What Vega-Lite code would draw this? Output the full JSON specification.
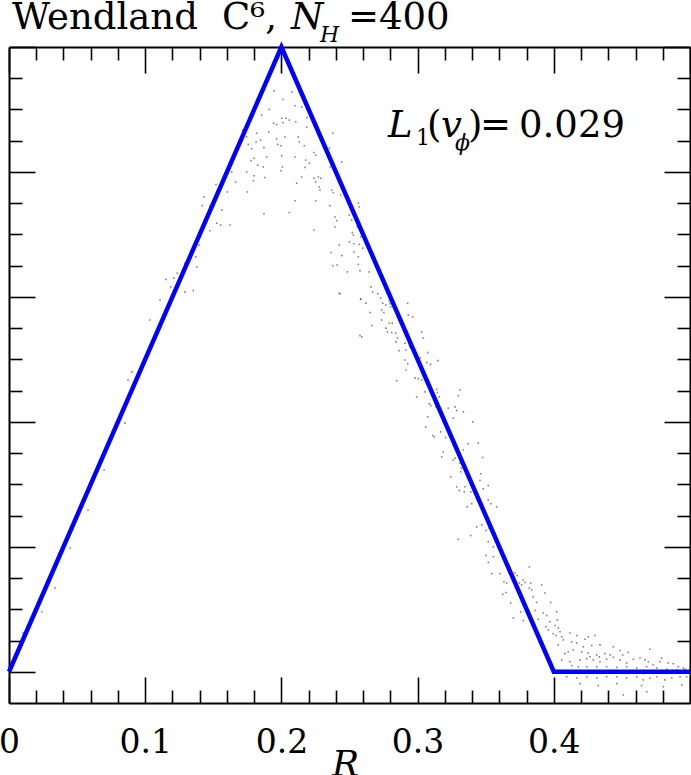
{
  "$schema": "https://vega.github.io/schema/vega-lite/v6.json",
  "width": 681,
  "height": 656,
  "autosize": {"type": "none"},
  "padding": {"left": 9, "top": 47, "right": 1, "bottom": 72},
  "background": "white",
  "config": {
    "view": {"stroke": null},
    "axis": {"zindex": 1, "domainColor": "#000", "tickColor": "#000", "domainWidth": 2, "tickWidth": 1.6, "grid": false, "labelFlush": false, "labelOverlap": false, "labelBound": false, "title": null}
  },
  "datasets": {
    "profile": [{"R": 0, "v": 0}, {"R": 0.2, "v": 1}, {"R": 0.4, "v": 0}, {"R": 0.5, "v": 0}],
    "particles": [
      {"R":0.1946,"v":0.930},{"R":0.2076,"v":0.928},{"R":0.2010,"v":0.916},{"R":0.2100,"v":0.906},{"R":0.2149,"v":0.904},
      {"R":0.1911,"v":0.900},{"R":0.1855,"v":0.891},{"R":0.2002,"v":0.886},{"R":0.2034,"v":0.886},{"R":0.2058,"v":0.883},
      {"R":0.2105,"v":0.880},{"R":0.2188,"v":0.887},{"R":0.1943,"v":0.878},{"R":0.1965,"v":0.876},{"R":0.2010,"v":0.879},
      {"R":0.1907,"v":0.864},{"R":0.2186,"v":0.872},{"R":0.1819,"v":0.862},{"R":0.1745,"v":0.856},{"R":0.1716,"v":0.867},
      {"R":0.1965,"v":0.853},{"R":0.2026,"v":0.856},{"R":0.2124,"v":0.856},{"R":0.1848,"v":0.851},{"R":0.1814,"v":0.848},
      {"R":0.1757,"v":0.844},{"R":0.1973,"v":0.844},{"R":0.1995,"v":0.842},{"R":0.2131,"v":0.848},{"R":0.2168,"v":0.842},
      {"R":0.1872,"v":0.839},{"R":0.1782,"v":0.837},{"R":0.2377,"v":0.862},{"R":0.2239,"v":0.831},{"R":0.2252,"v":0.827},
      {"R":0.2352,"v":0.838},{"R":0.1799,"v":0.822},{"R":0.1777,"v":0.818},{"R":0.1892,"v":0.824},{"R":0.2002,"v":0.826},
      {"R":0.2100,"v":0.824},{"R":0.2178,"v":0.819},{"R":0.2205,"v":0.814},{"R":0.1826,"v":0.811},{"R":0.1867,"v":0.808},
      {"R":0.2007,"v":0.808},{"R":0.1997,"v":0.802},{"R":0.2173,"v":0.807},{"R":0.2443,"v":0.816},{"R":0.2357,"v":0.808},
      {"R":0.1745,"v":0.800},{"R":0.1635,"v":0.800},{"R":0.1603,"v":0.798},{"R":0.1799,"v":0.794},{"R":0.1794,"v":0.786},
      {"R":0.1877,"v":0.791},{"R":0.2149,"v":0.792},{"R":0.2239,"v":0.790},{"R":0.2271,"v":0.792},{"R":0.2289,"v":0.790},
      {"R":0.1664,"v":0.784},{"R":0.2112,"v":0.782},{"R":0.2252,"v":0.784},{"R":0.2278,"v":0.776},{"R":0.2283,"v":0.771},
      {"R":0.1520,"v":0.780},{"R":0.1603,"v":0.768},{"R":0.1750,"v":0.768},{"R":0.2369,"v":0.771},{"R":0.2381,"v":0.767},
      {"R":0.2435,"v":0.763},{"R":0.2100,"v":0.754},{"R":0.2252,"v":0.754},{"R":0.1432,"v":0.760},{"R":0.1419,"v":0.746},
      {"R":0.1476,"v":0.746},{"R":0.1562,"v":0.739},{"R":0.2357,"v":0.746},{"R":0.2565,"v":0.750},{"R":0.2572,"v":0.744},
      {"R":0.1872,"v":0.733},{"R":0.2058,"v":0.735},{"R":0.2499,"v":0.731},{"R":0.2394,"v":0.728},{"R":0.2406,"v":0.722},
      {"R":0.2516,"v":0.723},{"R":0.1525,"v":0.718},{"R":0.1554,"v":0.715},{"R":0.1623,"v":0.715},{"R":0.2557,"v":0.712},
      {"R":0.2394,"v":0.712},{"R":0.2239,"v":0.707},{"R":0.1476,"v":0.706},{"R":0.2521,"v":0.703},{"R":0.2528,"v":0.699},
      {"R":0.2582,"v":0.696},{"R":0.2499,"v":0.688},{"R":0.2533,"v":0.685},{"R":0.2572,"v":0.684},{"R":0.1397,"v":0.683},
      {"R":0.2425,"v":0.683},{"R":0.2597,"v":0.678},{"R":0.2533,"v":0.672},{"R":0.2364,"v":0.671},{"R":0.2443,"v":0.666},
      {"R":0.2565,"v":0.664},{"R":0.1371,"v":0.664},{"R":0.2565,"v":0.652},{"R":0.2377,"v":0.650},{"R":0.2410,"v":0.651},
      {"R":0.1292,"v":0.654},{"R":0.1378,"v":0.648},{"R":0.2484,"v":0.640},{"R":0.2577,"v":0.642},{"R":0.2645,"v":0.640},
      {"R":0.1153,"v":0.628},{"R":0.1211,"v":0.630},{"R":0.1236,"v":0.638},{"R":0.1187,"v":0.616},{"R":0.1292,"v":0.608},
      {"R":0.1353,"v":0.610},{"R":0.2425,"v":0.606},{"R":0.2582,"v":0.597},
      {"R":0.2430,"v":0.605},{"R":0.2658,"v":0.616},{"R":0.2670,"v":0.608},{"R":0.2707,"v":0.605},{"R":0.2729,"v":0.598},
      {"R":0.2582,"v":0.596},{"R":0.2621,"v":0.590},{"R":0.2744,"v":0.590},{"R":0.2768,"v":0.587},{"R":0.2792,"v":0.594},
      {"R":0.2797,"v":0.589},{"R":0.2802,"v":0.584},{"R":0.2736,"v":0.579},{"R":0.2753,"v":0.575},{"R":0.2927,"v":0.590},
      {"R":0.2651,"v":0.575},{"R":0.2932,"v":0.571},{"R":0.2964,"v":0.568},{"R":0.2736,"v":0.563},{"R":0.2792,"v":0.558},
      {"R":0.2814,"v":0.558},{"R":0.2663,"v":0.554},{"R":0.2768,"v":0.550},{"R":0.2778,"v":0.544},{"R":0.2810,"v":0.543},
      {"R":0.2839,"v":0.542},{"R":0.2902,"v":0.546},{"R":0.3030,"v":0.544},{"R":0.2577,"v":0.538},{"R":0.2590,"v":0.536},
      {"R":0.2851,"v":0.534},{"R":0.2841,"v":0.528},{"R":0.3042,"v":0.534},{"R":0.2907,"v":0.526},{"R":0.2939,"v":0.523},
      {"R":0.2944,"v":0.519},{"R":0.2863,"v":0.514},{"R":0.2915,"v":0.515},{"R":0.3074,"v":0.511},{"R":0.3150,"v":0.498},
      {"R":0.2907,"v":0.499},{"R":0.2927,"v":0.493},{"R":0.3018,"v":0.502},{"R":0.3067,"v":0.495},{"R":0.3096,"v":0.492},
      {"R":0.2915,"v":0.483},{"R":0.2847,"v":0.466},{"R":0.2981,"v":0.470},{"R":0.3005,"v":0.469},{"R":0.3030,"v":0.467},
      {"R":0.3054,"v":0.448},{"R":0.3140,"v":0.452},{"R":0.3145,"v":0.447},{"R":0.3311,"v":0.451},{"R":0.3299,"v":0.442},
      {"R":0.2993,"v":0.440},{"R":0.3159,"v":0.440},{"R":0.3086,"v":0.429},{"R":0.3096,"v":0.426},{"R":0.3135,"v":0.424},
      {"R":0.3225,"v":0.422},{"R":0.3275,"v":0.424},{"R":0.3287,"v":0.418},{"R":0.3336,"v":0.416},{"R":0.3074,"v":0.408},
      {"R":0.3262,"v":0.406},{"R":0.3405,"v":0.400},{"R":0.3059,"v":0.392},{"R":0.3111,"v":0.378},{"R":0.3123,"v":0.376},
      {"R":0.3170,"v":0.384},{"R":0.3206,"v":0.375},{"R":0.3372,"v":0.365},{"R":0.3446,"v":0.366},{"R":0.3275,"v":0.358},
      {"R":0.3189,"v":0.352},{"R":0.3177,"v":0.344},{"R":0.3336,"v":0.355},{"R":0.3478,"v":0.343},{"R":0.3275,"v":0.342},
      {"R":0.3262,"v":0.339},{"R":0.3311,"v":0.334},{"R":0.3321,"v":0.326},{"R":0.3316,"v":0.320},{"R":0.3243,"v":0.312},
      {"R":0.3463,"v":0.317},{"R":0.3287,"v":0.296},{"R":0.3348,"v":0.296},{"R":0.3458,"v":0.306},{"R":0.3519,"v":0.298},
      {"R":0.3306,"v":0.290},{"R":0.3343,"v":0.288},{"R":0.3390,"v":0.288},{"R":0.3421,"v":0.288},{"R":0.3482,"v":0.293},
      {"R":0.3365,"v":0.264},{"R":0.3397,"v":0.269},{"R":0.3519,"v":0.275},{"R":0.3537,"v":0.269},{"R":0.3581,"v":0.264},
      {"R":0.3434,"v":0.232},{"R":0.3471,"v":0.235},{"R":0.3502,"v":0.226},{"R":0.3526,"v":0.230},{"R":0.3568,"v":0.222},
      {"R":0.3581,"v":0.211},{"R":0.3299,"v":0.212},{"R":0.3390,"v":0.218},{"R":0.3519,"v":0.208},{"R":0.3556,"v":0.200},
      {"R":0.3502,"v":0.186},{"R":0.3556,"v":0.184},
      {"R":0.3519,"v":0.175},{"R":0.3544,"v":0.157},{"R":0.3605,"v":0.157},{"R":0.3634,"v":0.144},{"R":0.3654,"v":0.142},
      {"R":0.3715,"v":0.158},{"R":0.3732,"v":0.154},{"R":0.3820,"v":0.168},{"R":0.3747,"v":0.142},{"R":0.3776,"v":0.147},
      {"R":0.3789,"v":0.143},{"R":0.3764,"v":0.139},{"R":0.3830,"v":0.142},{"R":0.3911,"v":0.139},{"R":0.3649,"v":0.127},
      {"R":0.3625,"v":0.124},{"R":0.3820,"v":0.134},{"R":0.3838,"v":0.131},{"R":0.3849,"v":0.120},{"R":0.3935,"v":0.126},
      {"R":0.3684,"v":0.110},{"R":0.3764,"v":0.112},{"R":0.3776,"v":0.107},{"R":0.3874,"v":0.111},{"R":0.3977,"v":0.111},
      {"R":0.3757,"v":0.096},{"R":0.3801,"v":0.096},{"R":0.3813,"v":0.094},{"R":0.3862,"v":0.098},{"R":0.3923,"v":0.094},
      {"R":0.3948,"v":0.090},{"R":0.4021,"v":0.096},{"R":0.3703,"v":0.086},{"R":0.3776,"v":0.082},{"R":0.3886,"v":0.084},
      {"R":0.3972,"v":0.080},{"R":0.4026,"v":0.083},{"R":0.3943,"v":0.072},{"R":0.3960,"v":0.067},{"R":0.4009,"v":0.074},
      {"R":0.4033,"v":0.070},{"R":0.4046,"v":0.064},{"R":0.3996,"v":0.061},{"R":0.4016,"v":0.058},{"R":0.4058,"v":0.056},
      {"R":0.4070,"v":0.051},{"R":0.4119,"v":0.062},{"R":0.4168,"v":0.058},{"R":0.4229,"v":0.052},{"R":0.4253,"v":0.056},
      {"R":0.4302,"v":0.058},{"R":0.4131,"v":0.048},{"R":0.4168,"v":0.046},{"R":0.4217,"v":0.040},{"R":0.4278,"v":0.042},
      {"R":0.4339,"v":0.043},{"R":0.4437,"v":0.040},{"R":0.4033,"v":0.043},{"R":0.4143,"v":0.035},{"R":0.4106,"v":0.032},
      {"R":0.4082,"v":0.029},{"R":0.4205,"v":0.032},{"R":0.4253,"v":0.030},{"R":0.4266,"v":0.024},{"R":0.4315,"v":0.027},
      {"R":0.4334,"v":0.024},{"R":0.4376,"v":0.029},{"R":0.4413,"v":0.027},{"R":0.4486,"v":0.034},{"R":0.4506,"v":0.027},
      {"R":0.4547,"v":0.031},{"R":0.4706,"v":0.036},{"R":0.4058,"v":0.019},{"R":0.4119,"v":0.016},{"R":0.4192,"v":0.019},
      {"R":0.4242,"v":0.021},{"R":0.4290,"v":0.019},{"R":0.4339,"v":0.016},{"R":0.4388,"v":0.020},{"R":0.4437,"v":0.023},
      {"R":0.4486,"v":0.019},{"R":0.4535,"v":0.014},{"R":0.4584,"v":0.020},{"R":0.4633,"v":0.022},{"R":0.4670,"v":0.019},
      {"R":0.4694,"v":0.016},{"R":0.4730,"v":0.011},{"R":0.4780,"v":0.016},{"R":0.4792,"v":0.022},{"R":0.4841,"v":0.014},
      {"R":0.4877,"v":0.013},{"R":0.4914,"v":0.008},{"R":0.4951,"v":0.006},{"R":0.4131,"v":0.010},{"R":0.4180,"v":0.008},
      {"R":0.4242,"v":0.008},{"R":0.4315,"v":0.008},{"R":0.4388,"v":0.008},{"R":0.4462,"v":0.007},{"R":0.4535,"v":0.008},
      {"R":0.4609,"v":0.006},{"R":0.4682,"v":0.008},{"R":0.4755,"v":0.006},{"R":0.4829,"v":0.004},{"R":0.4902,"v":0.003},
      {"R":0.4963,"v":0.004},{"R":0.4095,"v":-0.008},{"R":0.4168,"v":-0.010},{"R":0.4242,"v":-0.008},{"R":0.4315,"v":-0.010},
      {"R":0.4388,"v":-0.008},{"R":0.4462,"v":-0.008},{"R":0.4535,"v":-0.010},{"R":0.4609,"v":-0.008},{"R":0.4657,"v":-0.013},
      {"R":0.4706,"v":-0.010},{"R":0.4755,"v":-0.008},{"R":0.4816,"v":-0.013},{"R":0.4866,"v":-0.010},{"R":0.4927,"v":-0.008},
      {"R":0.4976,"v":-0.008},{"R":0.4192,"v":-0.019},{"R":0.4327,"v":-0.022},{"R":0.4462,"v":-0.019},{"R":0.4645,"v":-0.022},
      {"R":0.4804,"v":-0.024},{"R":0.4939,"v":-0.021},{"R":0.4510,"v":-0.037},{"R":0.4682,"v":-0.032},
      {"R":0.0903,"v":0.480},{"R":0.0874,"v":0.467},{"R":0.0852,"v":0.398},{"R":0.0580,"v":0.259},{"R":0.0448,"v":0.198},
      {"R":0.0338,"v":0.134},{"R":0.0242,"v":0.096},{"R":0.0103,"v":0.062},{"R":0.1035,"v":0.563},{"R":0.0698,"v":0.323},
      {"R":0.0756,"v":0.374},{"R":0.1109,"v":0.595}
    ],
    "textNormal": [
      {"R": 0.0022, "v": 1.0288, "t": "Wendland"},
      {"R": 0.1564, "v": 1.0288, "t": "C⁶,"},
      {"R": 0.2489, "v": 1.0288, "t": "=400"},
      {"R": 0.3069, "v": 0.856, "t": "("},
      {"R": 0.3370, "v": 0.856, "t": ")"},
      {"R": 0.3458, "v": 0.856, "t": "="},
      {"R": 0.3745, "v": 0.856, "t": "0.029"}
    ],
    "textItalic": [
      {"R": 0.2070, "v": 1.0288, "t": "N"},
      {"R": 0.2783, "v": 0.856, "t": "L"},
      {"R": 0.3172, "v": 0.856, "t": "v"}
    ],
    "textSubItalic": [
      {"R": 0.2283, "v": 1.008, "t": "H"},
      {"R": 0.3275, "v": 0.835, "t": "ϕ"}
    ],
    "textSub": [
      {"R": 0.2988, "v": 0.843, "t": "1"}
    ]
  },
  "resolve": {"axis": {"x": "independent", "y": "independent"}},
  "layer": [
    {
      "data": {"name": "particles"},
      "mark": {"type": "square", "size": 2.5, "color": "#555", "opacity": 0.75},
      "encoding": {
        "x": {"field": "R", "type": "quantitative", "scale": {"domain": [0, 0.5], "nice": false, "zero": false},
              "axis": {"orient": "top", "values": [0, 0.1, 0.2, 0.3, 0.4, 0.5], "tickSize": -26, "labels": false, "domain": true}},
        "y": {"field": "v", "type": "quantitative", "scale": {"domain": [-0.05, 1.0], "nice": false, "zero": false},
              "axis": {"orient": "right", "values": [0, 0.2, 0.4, 0.6, 0.8, 1.0], "tickSize": -26, "labels": false, "domain": true}}
      }
    },
    {
      "data": {"name": "profile"},
      "mark": {"type": "line", "color": "#0000ff", "strokeWidth": 4.5, "strokeJoin": "miter", "clip": false},
      "encoding": {
        "x": {"field": "R", "type": "quantitative", "scale": {"domain": [0, 0.5], "nice": false, "zero": false},
              "axis": {"orient": "bottom", "values": [0, 0.1, 0.2, 0.3, 0.4, 0.5], "tickSize": -26, "labels": false, "domain": true}},
        "y": {"field": "v", "type": "quantitative", "scale": {"domain": [-0.05, 1.0], "nice": false, "zero": false},
              "axis": {"orient": "left", "values": [0, 0.2, 0.4, 0.6, 0.8, 1.0], "tickSize": -26, "labels": false, "domain": true}}
      }
    },
    {
      "data": {"name": "profile"},
      "mark": {"type": "line", "opacity": 0},
      "encoding": {
        "x": {"field": "R", "type": "quantitative", "scale": {"domain": [0, 0.5], "nice": false, "zero": false},
              "axis": {"orient": "bottom", "values": [0.02,0.04,0.06,0.08,0.12,0.14,0.16,0.18,0.22,0.24,0.26,0.28,0.32,0.34,0.36,0.38,0.42,0.44,0.46,0.48], "tickSize": -13, "labels": false, "domain": false}},
        "y": {"field": "v", "type": "quantitative", "scale": {"domain": [-0.05, 1.0], "nice": false, "zero": false},
              "axis": {"orient": "left", "values": [0.05,0.1,0.15,0.25,0.3,0.35,0.45,0.5,0.55,0.65,0.7,0.75,0.85,0.9,0.95], "tickSize": -13, "labels": false, "domain": false}}
      }
    },
    {
      "data": {"name": "profile"},
      "mark": {"type": "line", "opacity": 0},
      "encoding": {
        "x": {"field": "R", "type": "quantitative", "scale": {"domain": [0, 0.5], "nice": false, "zero": false},
              "axis": {"orient": "top", "values": [0.02,0.04,0.06,0.08,0.12,0.14,0.16,0.18,0.22,0.24,0.26,0.28,0.32,0.34,0.36,0.38,0.42,0.44,0.46,0.48], "tickSize": -13, "labels": false, "domain": false}},
        "y": {"field": "v", "type": "quantitative", "scale": {"domain": [-0.05, 1.0], "nice": false, "zero": false},
              "axis": {"orient": "right", "values": [0.05,0.1,0.15,0.25,0.3,0.35,0.45,0.5,0.55,0.65,0.7,0.75,0.85,0.9,0.95], "tickSize": -13, "labels": false, "domain": false}}
      }
    },
    {
      "data": {"name": "profile"},
      "mark": {"type": "line", "opacity": 0},
      "encoding": {
        "x": {"field": "R", "type": "quantitative", "scale": {"domain": [0, 0.5], "nice": false, "zero": false},
              "axis": {"orient": "bottom", "values": [0, 0.1, 0.2, 0.3, 0.4], "ticks": false, "tickSize": 0, "domain": false, "labels": true,
                       "format": "~g", "labelFont": "DejaVu Serif", "labelFontSize": 33, "labelColor": "#000", "labelBaseline": "alphabetic", "labelPadding": 49, "labelAlign": "center",
                       "title": "R", "titleFont": "DejaVu Serif", "titleFontStyle": "italic", "titleFontWeight": "normal", "titleFontSize": 36, "titleColor": "#000",
                       "titleBaseline": "alphabetic", "titleAlign": "center", "titleX": 336, "titleY": 72}},
        "y": {"field": "v", "type": "quantitative", "scale": {"domain": [-0.05, 1.0], "nice": false, "zero": false}, "axis": null}
      }
    },
    {
      "data": {"name": "textNormal"},
      "mark": {"type": "text", "font": "DejaVu Serif", "fontSize": 37, "align": "left", "baseline": "alphabetic", "color": "#000"},
      "encoding": {
        "x": {"field": "R", "type": "quantitative", "scale": {"domain": [0, 0.5], "nice": false, "zero": false}, "axis": null},
        "y": {"field": "v", "type": "quantitative", "scale": {"domain": [-0.05, 1.0], "nice": false, "zero": false}, "axis": null},
        "text": {"field": "t"}
      }
    },
    {
      "data": {"name": "textItalic"},
      "mark": {"type": "text", "font": "DejaVu Serif", "fontStyle": "italic", "fontSize": 37, "align": "left", "baseline": "alphabetic", "color": "#000"},
      "encoding": {
        "x": {"field": "R", "type": "quantitative", "scale": {"domain": [0, 0.5], "nice": false, "zero": false}, "axis": null},
        "y": {"field": "v", "type": "quantitative", "scale": {"domain": [-0.05, 1.0], "nice": false, "zero": false}, "axis": null},
        "text": {"field": "t"}
      }
    },
    {
      "data": {"name": "textSubItalic"},
      "mark": {"type": "text", "font": "DejaVu Serif", "fontStyle": "italic", "fontSize": 22, "align": "left", "baseline": "alphabetic", "color": "#000"},
      "encoding": {
        "x": {"field": "R", "type": "quantitative", "scale": {"domain": [0, 0.5], "nice": false, "zero": false}, "axis": null},
        "y": {"field": "v", "type": "quantitative", "scale": {"domain": [-0.05, 1.0], "nice": false, "zero": false}, "axis": null},
        "text": {"field": "t"}
      }
    },
    {
      "data": {"name": "textSub"},
      "mark": {"type": "text", "font": "DejaVu Serif", "fontSize": 22, "align": "left", "baseline": "alphabetic", "color": "#000"},
      "encoding": {
        "x": {"field": "R", "type": "quantitative", "scale": {"domain": [0, 0.5], "nice": false, "zero": false}, "axis": null},
        "y": {"field": "v", "type": "quantitative", "scale": {"domain": [-0.05, 1.0], "nice": false, "zero": false}, "axis": null},
        "text": {"field": "t"}
      }
    }
  ]
}
